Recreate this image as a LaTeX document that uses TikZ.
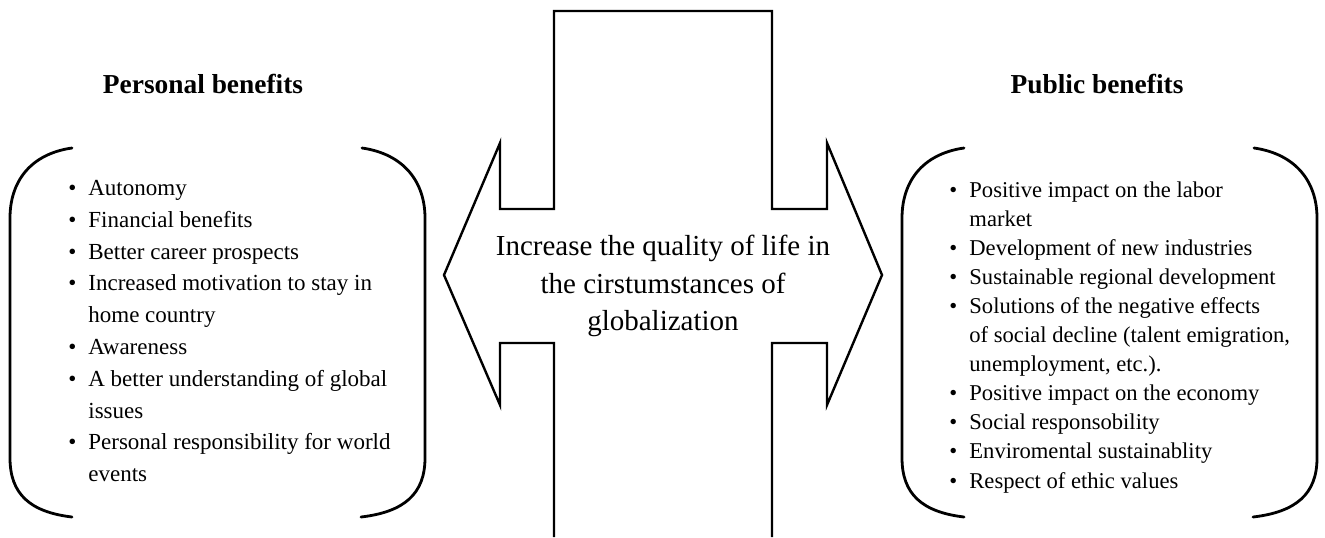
\documentclass[tikz,border=0pt]{standalone}
\usepackage{fontspec}
\setmainfont{Liberation Serif}
\usepackage{tikz}
\tikzstyle{outline}=[line width=1.2pt,line join=miter]
\tikzstyle{paren}=[line width=1.4pt,line cap=round]
\tikzstyle{head}=[font=\fontsize{13.7}{16}\selectfont\bfseries,anchor=base,inner sep=0pt]
\tikzstyle{blist}=[anchor=north west,inner sep=0pt,align=left]
\newcommand\bul{\makebox[10pt][l]{\textbullet}}
\newcommand\cont{\hspace*{10pt}}

\begin{document}
\begin{tikzpicture}[x=0.5pt,y=-0.5pt]
	\useasboundingbox (0,0) rectangle (1325,537);
	\node[head] (personal) at (203,93) {Personal benefits};
	\node[head] (public) at (1097,93) {Public benefits};
	% two pairs of round brackets
	\foreach \s in {0,892} {
		\draw[paren,shift={(\s,0)}] (72,148) .. controls (30,154) and (10,182) .. (10,218) -- (10,458) .. controls (10,494) and (30,512) .. (72,517);
		\draw[paren,shift={(\s,0)}] (362,148) .. controls (404,154) and (425,182) .. (425,218) -- (425,458) .. controls (425,494) and (404,512) .. (361,517);
	}
	% double arrow crossed by the bar
	\draw[outline] (554,537) -- (554,343) -- (500,343) -- (500,405) -- (444,275) -- (500,143) -- (500,209) -- (554,209) -- (554,11)
		-- (772,11) -- (772,209) -- (827,209) -- (827,143) -- (882,275) -- (827,405) -- (827,343) -- (772,343) -- (772,537);
	\node[align=center,font=\fontsize{14.5}{18.75}\selectfont,inner sep=0pt] (goal) at (663,286)
		{Increase the quality of life in\\the cirstumstances of\\globalization};
	\node[blist,font=\fontsize{11.5}{15.9}\selectfont] (perslist) at (68,180) {%
		\bul Autonomy\\
		\bul Financial benefits\\
		\bul Better career prospects\\
		\bul Increased motivation to stay in\\
		\cont home country\\
		\bul Awareness\\
		\bul A better understanding of global\\
		\cont issues\\
		\bul Personal responsibility for world\\
		\cont events};
	\node[blist,font=\fontsize{11.3}{14.55}\selectfont] (publist) at (949,181) {%
		\bul Positive impact on the labor\\
		\cont market\\
		\bul Development of new industries\\
		\bul Sustainable regional development\\
		\bul Solutions of the negative effects\\
		\cont of social decline (talent emigration,\\
		\cont unemployment, etc.).\\
		\bul Positive impact on the economy\\
		\bul Social responsobility\\
		\bul Enviromental sustainablity\\
		\bul Respect of ethic values};
\end{tikzpicture}
\end{document}
